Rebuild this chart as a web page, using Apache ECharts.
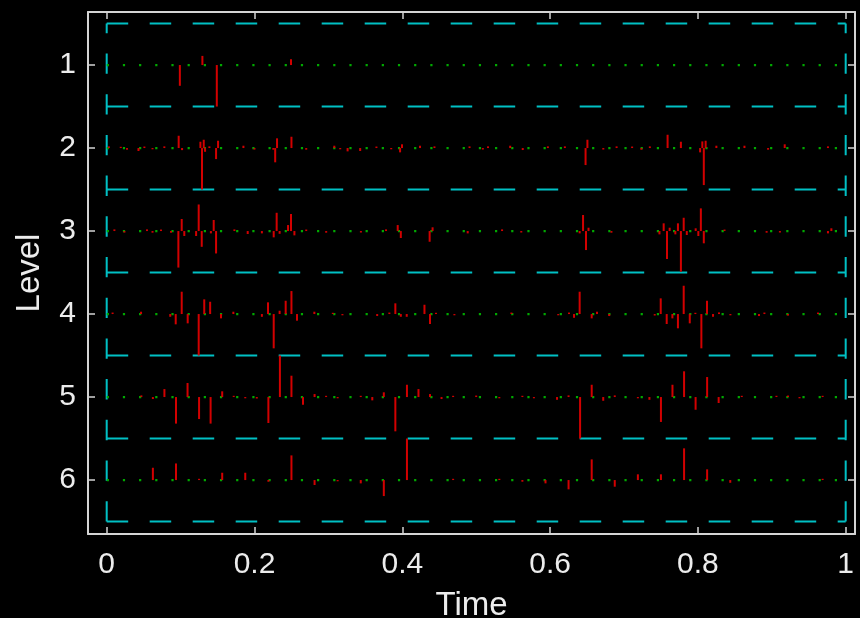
<!DOCTYPE html>
<html>
<head>
<meta charset="utf-8">
<script src="https://cdn.jsdelivr.net/npm/echarts@6/dist/echarts.min.js"></script>
<style>
html,body{margin:0;padding:0;background:#000;}
#chart{width:860px;height:618px;}
</style>
</head>
<body>
<div id="chart"></div>
<script>
// Tick positions
const xTicks = [0, 0.2, 0.4, 0.6, 0.8, 1];
const yTicks = [1, 2, 3, 4, 5, 6];
// Band boundaries between levels
const bandEdges = [0.5, 1.5, 2.5, 3.5, 4.5, 5.5, 6.5];

// Coefficients per level: [time, value] (positive value = stem pointing up)
const level1 = [[0.099,-0.25],[0.1295,0.11],[0.149,-0.5],[0.2494,0.07]];

const level2 = [[0.003,0.02],[0.019,0.015],[0.0275,-0.02],[0.043,-0.036],[0.051,0.018],[0.062,-0.015],
  [0.078,0.02],[0.0974,0.148],[0.102,-0.025],[0.1268,0.076],[0.129,-0.5],[0.1313,0.10],[0.1331,-0.045],
  [0.139,0.02],[0.148,-0.133],[0.1507,0.088],[0.185,0.028],[0.200,-0.018],[0.2255,-0.02],[0.228,-0.172],
  [0.2305,0.117],[0.250,0.136],[0.270,-0.02],[0.308,0.028],[0.316,-0.015],[0.326,-0.04],[0.343,-0.036],
  [0.365,0.018],[0.385,-0.015],[0.397,-0.052],[0.3996,0.045],[0.424,0.028],[0.4435,0.02],[0.491,0.02],
  [0.509,-0.018],[0.516,0.02],[0.546,0.028],[0.563,-0.024],[0.597,0.02],[0.620,0.02],[0.648,-0.205],
  [0.6505,0.10],[0.672,-0.018],[0.690,0.02],[0.711,0.018],[0.7235,-0.02],[0.735,0.02],[0.759,0.16],
  [0.777,0.076],[0.803,-0.052],[0.806,0.08],[0.808,-0.446],[0.8105,0.088],[0.825,0.028],[0.863,0.028],
  [0.895,-0.02],[0.9175,0.045],[0.976,0.02]];

const level3 = [[0.0104,0.02],[0.024,-0.018],[0.0545,0.02],[0.062,-0.02],[0.0735,0.018],[0.087,-0.02],
  [0.097,-0.44],[0.1015,0.145],[0.105,-0.06],[0.121,-0.06],[0.1245,0.32],[0.1286,-0.19],[0.141,-0.028],
  [0.1448,0.133],[0.148,-0.27],[0.1728,0.02],[0.1908,-0.036],[0.210,-0.028],[0.226,-0.076],[0.230,0.22],
  [0.234,-0.033],[0.2454,0.072],[0.2494,0.205],[0.254,-0.052],[0.270,0.018],[0.297,-0.02],[0.344,-0.018],
  [0.378,0.02],[0.3938,0.072],[0.398,-0.084],[0.437,-0.129],[0.441,0.045],[0.4885,-0.028],[0.535,0.02],
  [0.561,-0.018],[0.640,-0.028],[0.6446,0.193],[0.6486,-0.229],[0.652,0.04],[0.683,-0.02],[0.748,-0.04],
  [0.7537,0.093],[0.7582,-0.337],[0.7618,0.04],[0.7695,-0.04],[0.773,0.093],[0.777,-0.49],[0.7808,0.16],
  [0.785,-0.048],[0.797,0.033],[0.8006,-0.06],[0.804,0.273],[0.808,-0.148],[0.836,0.018],[0.893,-0.02],
  [0.911,-0.018],[0.976,-0.028],[0.9806,0.033]];

const level4 = [[0.008,0.018],[0.0465,0.028],[0.086,-0.033],[0.0934,-0.124],[0.1015,0.269],[0.1096,-0.112],
  [0.1245,-0.5],[0.132,0.177],[0.140,0.148],[0.1547,-0.052],[0.1714,0.028],[0.210,-0.033],[0.2183,0.141],
  [0.226,-0.413],[0.234,0.04],[0.2422,0.16],[0.250,0.277],[0.2575,-0.08],[0.281,0.028],[0.306,0.015],
  [0.319,-0.015],[0.366,-0.024],[0.3825,0.018],[0.3906,0.129],[0.398,-0.033],[0.406,-0.033],[0.430,0.112],
  [0.4375,-0.12],[0.4456,0.015],[0.4705,-0.015],[0.5476,0.018],[0.611,-0.015],[0.6256,0.018],[0.6324,-0.045],
  [0.640,0.269],[0.6563,-0.052],[0.6635,0.028],[0.680,-0.024],[0.7416,-0.018],[0.7497,0.189],[0.7578,-0.12],
  [0.7655,-0.052],[0.773,-0.172],[0.7808,0.341],[0.789,-0.112],[0.7966,0.015],[0.8047,-0.413],[0.8123,0.16],
  [0.8205,-0.033],[0.8286,0.02],[0.844,-0.015],[0.8827,-0.024],[0.890,0.018],[0.922,-0.018],[0.9625,0.018]];

const level5 = [[0.0469,0.02],[0.0625,-0.024],[0.0781,0.096],[0.0938,-0.32],[0.1094,0.169],[0.125,-0.265],
  [0.1406,-0.32],[0.1563,0.069],[0.1719,0.015],[0.1875,-0.015],[0.2031,-0.018],[0.2188,-0.313],[0.2344,0.5],
  [0.25,0.257],[0.2656,-0.093],[0.2813,0.036],[0.2969,0.015],[0.3125,-0.015],[0.3438,0.015],[0.3594,-0.04],
  [0.375,0.057],[0.3906,-0.413],[0.4063,0.148],[0.4219,0.096],[0.4375,0.036],[0.4531,-0.024],[0.4688,0.015],
  [0.5,0.018],[0.5313,-0.015],[0.5625,0.015],[0.5781,-0.015],[0.6094,-0.033],[0.625,0.02],[0.6406,-0.5],
  [0.6563,0.148],[0.6719,-0.045],[0.6875,0.02],[0.7188,-0.015],[0.7344,-0.033],[0.75,-0.30],[0.7656,0.148],
  [0.7813,0.31],[0.7969,-0.153],[0.8125,0.241],[0.8281,-0.072],[0.8594,0.015],[0.9063,0.015],[0.9219,0.018],
  [0.9375,-0.015],[0.9688,0.015]];

const level6 = [[0.0625,0.148],[0.0938,0.2],[0.125,0.015],[0.1563,0.088],[0.1875,0.088],[0.2188,-0.02],
  [0.25,0.297],[0.2813,-0.06],[0.3125,-0.015],[0.3438,-0.04],[0.375,-0.193],[0.4063,0.5],[0.4688,0.015],
  [0.5313,0.015],[0.5625,-0.02],[0.5938,-0.04],[0.625,-0.112],[0.6563,0.249],[0.6875,-0.08],[0.7188,0.069],
  [0.75,0.069],[0.7813,0.382],[0.8125,0.129],[0.8438,-0.033],[0.9688,0.015]];

const levelData = [level1, level2, level3, level4, level5, level6];

const X_MIN = -0.0253, X_MAX = 1.0126;
const Y_MIN = 0.361, Y_MAX = 6.65;
const FONT = '"Liberation Sans", Arial, sans-serif';
const AXIS_COLOR = '#d4d4d4';
const TEXT_COLOR = '#ececec';
const STEM_COLOR = '#d20000';
const BASE_COLOR = '#00a800';
const BAND_COLOR = '#00c0c4';

// Stems as [time, level, value]
const stemData = [];
levelData.forEach((arr, i) => {
  arr.forEach(([t, v]) => stemData.push([t, yTicks[i], v]));
});

const series = [];

// Dashed band boundaries
bandEdges.forEach(y => {
  series.push({
    type: 'line', data: [[0, y], [1, y]], symbol: 'none', silent: true, z: 1,
    lineStyle: { color: BAND_COLOR, width: 2, type: [21.5, 21.5], cap: 'butt' }
  });
});
[0, 1].forEach(x => {
  series.push({
    type: 'line', data: [[x, 6.5], [x, 0.5]], symbol: 'none', silent: true, z: 1,
    lineStyle: { color: BAND_COLOR, width: 2, type: [20.35, 20.35], cap: 'butt' }
  });
});

// Dotted baselines at each level
yTicks.forEach(y => {
  series.push({
    type: 'line', data: [[0, y], [1, y]], symbol: 'none', silent: true, z: 2,
    lineStyle: { color: BASE_COLOR, width: 2.2, type: [2.2, 13.98], cap: 'butt' }
  });
});

// Coefficient stems
series.push({
  type: 'custom', z: 3, silent: true, data: stemData,
  renderItem: function (params, api) {
    const t = api.value(0), lv = api.value(1), v = api.value(2);
    const p0 = api.coord([t, lv]);
    const p1 = api.coord([t, lv - v]);
    return {
      type: 'line',
      shape: { x1: p0[0], y1: p0[1], x2: p1[0], y2: p1[1] },
      style: { stroke: STEM_COLOR, lineWidth: 2 }
    };
  }
});

function xAxisCfg(pos, main) {
  return {
    type: 'value', position: pos, min: X_MIN, max: X_MAX,
    axisLine: { show: true, onZero: false, lineStyle: { color: AXIS_COLOR, width: 2 } },
    axisTick: { show: true, inside: true, length: 7, customValues: xTicks, lineStyle: { color: AXIS_COLOR, width: 1.5 } },
    axisLabel: main ? { show: true, customValues: xTicks, formatter: v => String(v), color: TEXT_COLOR,
      fontSize: 30, fontFamily: FONT, margin: 16 } : { show: false },
    splitLine: { show: false },
    name: main ? 'Time' : '', nameLocation: 'middle', nameGap: 55,
    nameTextStyle: { color: TEXT_COLOR, fontSize: 33, fontFamily: FONT }
  };
}
function yAxisCfg(pos, main) {
  return {
    type: 'value', position: pos, inverse: true, min: Y_MIN, max: Y_MAX,
    axisLine: { show: true, onZero: false, lineStyle: { color: AXIS_COLOR, width: 2 } },
    axisTick: { show: true, inside: true, length: 7, customValues: yTicks, lineStyle: { color: AXIS_COLOR, width: 1.5 } },
    axisLabel: main ? { show: true, customValues: yTicks, formatter: v => String(v), color: TEXT_COLOR,
      fontSize: 30, fontFamily: FONT, margin: 12 } : { show: false },
    splitLine: { show: false },
    name: main ? 'Level' : '', nameLocation: 'middle', nameGap: 42,
    nameTextStyle: { color: TEXT_COLOR, fontSize: 33, fontFamily: FONT }
  };
}

const chart = echarts.init(document.getElementById('chart'), null, { renderer: 'canvas' });
chart.setOption({
  backgroundColor: '#000',
  animation: false,
  grid: { left: 88, right: 5, top: 12, bottom: 84, containLabel: false, outerBoundsMode: 'none' },
  xAxis: [xAxisCfg('bottom', true), xAxisCfg('top', false)],
  yAxis: [yAxisCfg('left', true), yAxisCfg('right', false)],
  series: series
});
</script>
</body>
</html>
